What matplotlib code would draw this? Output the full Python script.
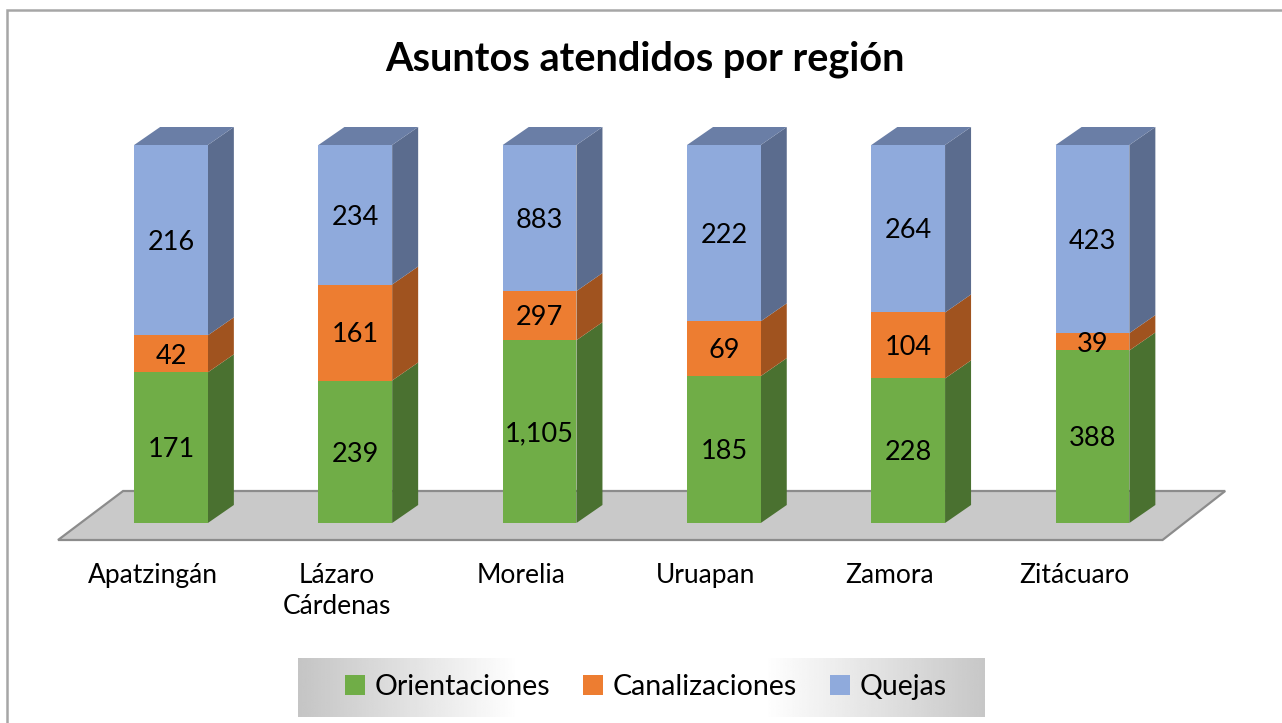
import numpy as np
import matplotlib.pyplot as plt
from matplotlib.patches import Polygon, Patch, Rectangle

plt.rcParams['font.family'] = ['Lato', 'DejaVu Sans']

regiones = ['Apatzingán', 'Lázaro\nCárdenas', 'Morelia', 'Uruapan', 'Zamora', 'Zitácuaro']
orientaciones = [171, 239, 1105, 185, 228, 388]
canalizaciones = [42, 161, 297, 69, 104, 39]
quejas = [216, 234, 883, 222, 264, 423]
series = ['Orientaciones', 'Canalizaciones', 'Quejas']

front = ['#70AD47', '#ED7D31', '#8FAADC']
side = ['#4A7130', '#A0531F', '#5B6C8E']
top_c = '#6A7EA6'

W, H = 1282, 723
fig = plt.figure(figsize=(W / 100, H / 100), dpi=100)
ax = fig.add_axes([0, 0, 1, 1])
ax.set_axis_off()

# pixel layout -> data scale (category units, percent)
step = 184.3
x0px = 171
base_px = 523
pct_px = 3.78
ax.set_xlim(-x0px / step, (W - x0px) / step)
ax.set_ylim(-(H - base_px) / pct_px, base_px / pct_px)

w = 0.40
dx = 26 / step
dy = 18 / pct_px

# floor
n = len(regiones)
fl_front = -17 / pct_px
fl_back = 32 / pct_px
floor = Polygon([(-0.613, fl_front), (-0.26, fl_back), (n - 1 + 0.72, fl_back),
                 (n - 1 + 0.38, fl_front)], closed=True, facecolor='#C9C9C9',
                edgecolor='#8C8C8C', lw=1.6, zorder=1)
ax.add_patch(floor)

data = np.array([orientaciones, canalizaciones, quejas], dtype=float)
tot = data.sum(axis=0)
pct = data / tot * 100

x = np.arange(n)
bottom = np.zeros(n)
for s in range(3):
    ax.bar(x, pct[s], w, bottom=bottom, color=front[s], zorder=3, lw=0)
    for i in range(n):
        y0, y1 = bottom[i], bottom[i] + pct[s, i]
        xr = x[i] + w / 2
        ax.add_patch(Polygon([(xr, y0), (xr + dx, y0 + dy), (xr + dx, y1 + dy), (xr, y1)],
                             closed=True, facecolor=side[s], lw=0, zorder=2))
        ax.text(x[i], (y0 + y1) / 2 - 0.6, f'{int(data[s, i]):,}', ha='center', va='center',
                fontsize=19.5, color='black', zorder=5)
    bottom += pct[s]

for i in range(n):
    xl, xr = x[i] - w / 2, x[i] + w / 2
    ax.add_patch(Polygon([(xl, 100), (xl + dx, 100 + dy), (xr + dx, 100 + dy), (xr, 100)],
                         closed=True, facecolor=top_c, lw=0, zorder=2))
    ax.text(x[i] - 0.1, -10.6, regiones[i], ha='center', va='top', fontsize=19,
            linespacing=1.3, color='black')

fig.text(645 / W, 1 - 59 / H, 'Asuntos atendidos por región', ha='center', va='center',
         fontsize=28.5, fontweight='bold', color='black')

# legend with gradient background
lax = fig.add_axes([298 / W, 6 / H, 687 / W, 59 / H])
g = np.interp(np.linspace(0, 1, 400), [0, 0.32, 0.68, 1], [0.77, 1, 1, 0.78])
lax.imshow(np.tile(g, (2, 1)), cmap='gray', vmin=0, vmax=1, aspect='auto',
           extent=[0, 1, 0, 1])
lax.set_axis_off()
handles = [Patch(facecolor=c, edgecolor='none') for c in front]
fig.legend(handles, series, loc='center', bbox_to_anchor=(646 / W, 1 - 687 / H),
           ncol=3, frameon=False, fontsize=20.5, handlelength=0.7, handleheight=0.7,
           handletextpad=0.35, columnspacing=1.15)

fig.patches.append(Rectangle((7 / W, -0.05), 1.1, 1 - 10 / H + 0.05, transform=fig.transFigure,
                             fill=False, edgecolor='#A6A6A6', lw=1.8))

fig.savefig('out.png', dpi=100)
